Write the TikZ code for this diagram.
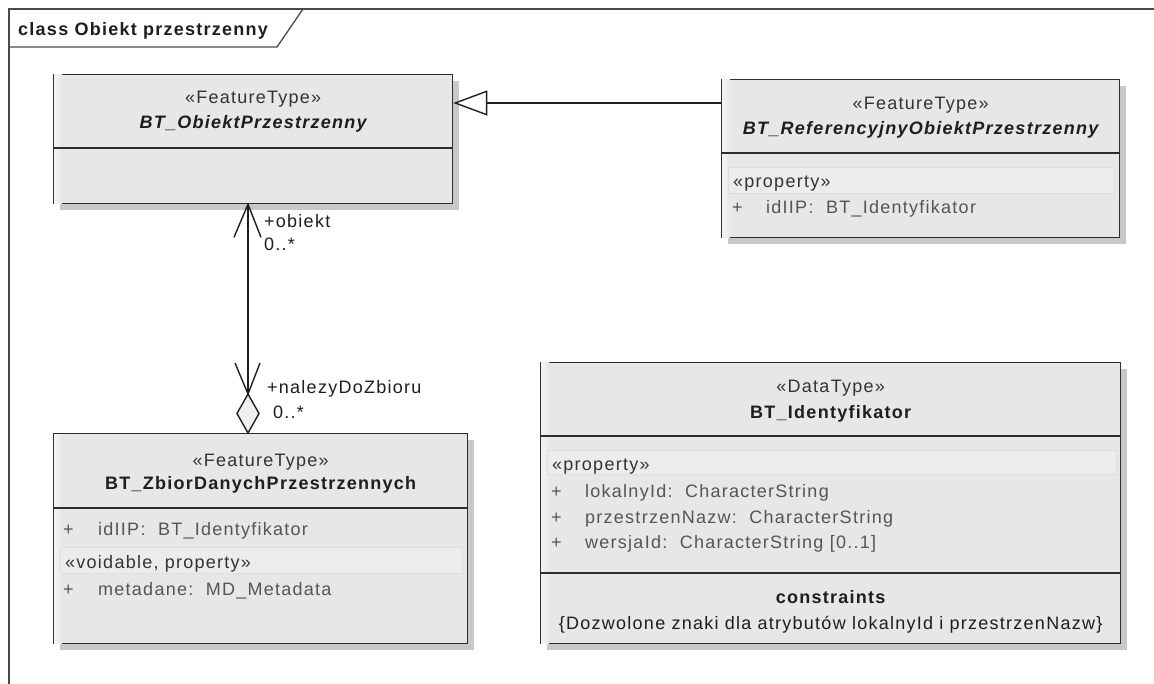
\documentclass[tikz,border=0pt]{standalone}
\usepackage{fontspec}
\setmainfont{Liberation Sans}[LetterSpace=7]
\usetikzlibrary{calc,arrows.meta,shadows}
\definecolor{boxfill}{HTML}{E7E7E7}
\definecolor{boxline}{HTML}{2E2E2E}
\definecolor{shadowc}{HTML}{C8C8C8}
\definecolor{bandfill}{HTML}{ECECEC}
\definecolor{bandline}{HTML}{DEDEDE}
\definecolor{stereoc}{HTML}{333333}
\definecolor{attrc}{HTML}{555555}
\definecolor{framec}{HTML}{4A4A4A}
\definecolor{namec}{HTML}{1E1E1E}
\begin{document}
\begin{tikzpicture}[x=1pt,y=-1pt,
  txt/.style={inner sep=0pt, anchor=base, font=\fontsize{18}{21}\selectfont},
  txtl/.style={txt, anchor=base west},
  stereo/.style={txt, text=stereoc},
  cname/.style={txt, text=namec, font=\fontsize{18}{21}\selectfont\bfseries},
  aname/.style={txt, text=namec, font=\fontsize{18}{21}\selectfont\bfseries\itshape},
  attr/.style={txtl, text=attrc},
  plus/.style={txtl, text=attrc},
  classbox/.style={draw=boxline, line width=1.3pt, fill=boxfill, inner sep=0pt, anchor=north west,
    drop shadow={shadow xshift=6pt, shadow yshift=-6pt, fill=shadowc, opacity=1}},
  divline/.style={draw=boxline, line width=1.3pt},
  band/.style={fill=bandfill, draw=bandline, line width=0.6pt},
  strip/.style={left color=white!55!boxfill, right color=boxfill},
  conn/.style={draw=black!88, line width=1.4pt},
  frameline/.style={draw=framec, line width=1.3pt}
]
\useasboundingbox (0,0) rectangle (1154,684);
\fill[white] (0,0) rectangle (1154,684);

% frame
\draw[frameline] (9,700) -- (9,9) -- (1170,9);
\draw[frameline] (9,47) -- (277,47) -- (303,9);
\node[txtl, font=\fontsize{18}{21}\selectfont\bfseries, text=namec] (title) at (18,36) {class Obiekt przestrzenny};

% class boxes
\node[classbox, minimum width=399pt, minimum height=129pt] (c1) at (53,74) {};
\node[classbox, minimum width=398pt, minimum height=158pt] (c2) at (721,79) {};
\node[classbox, minimum width=414pt, minimum height=210pt] (c3) at (53,433) {};
\node[classbox, minimum width=580pt, minimum height=281pt] (c4) at (540,362) {};

% left light strips
\foreach \c in {c1,c2,c3,c4}{
  \fill[strip] ($(\c.north west)+(1,1)$) rectangle ($(\c.south west)+(9,-1)$);
}

% ---- c1
\node[stereo] (c1s) at ($(c1.north)+(0,30)$) {«FeatureType»};
\node[aname] (c1n) at ($(c1.north)+(0,55)$) {BT\_ObiektPrzestrzenny};
\draw[divline] ($(c1.north west)+(0,74)$) -- ($(c1.north east)+(0,74)$);

% ---- c2
\node[stereo] (c2s) at ($(c2.north)+(0,31)$) {«FeatureType»};
\node[aname] (c2n) at ($(c2.north)+(0,56)$) {BT\_ReferencyjnyObiektPrzestrzenny};
\draw[divline] ($(c2.north west)+(0,74)$) -- ($(c2.north east)+(0,74)$);
\path[band] ($(c2.north west)+(7,88)$) rectangle ($(c2.north east)+(-6,114)$);
\node[txtl, text=stereoc] (c2p) at ($(c2.north west)+(12,109)$) {«property»};
\node[plus] (c2a1p) at ($(c2.north west)+(11,135)$) {+};
\node[attr] (c2a1) at ($(c2.north west)+(45,135)$) {idIIP:\ \ BT\_Identyfikator};

% ---- c3
\node[stereo] (c3s) at ($(c3.north)+(0,33)$) {«FeatureType»};
\node[cname] (c3n) at ($(c3.north)+(0,56)$) {BT\_ZbiorDanychPrzestrzennych};
\draw[divline] ($(c3.north west)+(0,75)$) -- ($(c3.north east)+(0,75)$);
\node[plus] (c3a1p) at ($(c3.north west)+(10,102)$) {+};
\node[attr] (c3a1) at ($(c3.north west)+(45,102)$) {idIIP:\ \ BT\_Identyfikator};
\path[band] ($(c3.north west)+(7,114)$) rectangle ($(c3.north east)+(-6,140)$);
\node[txtl, text=stereoc] (c3p) at ($(c3.north west)+(12,135)$) {«voidable, property»};
\node[plus] (c3a2p) at ($(c3.north west)+(10,162)$) {+};
\node[attr] (c3a2) at ($(c3.north west)+(45,162)$) {metadane:\ \ MD\_Metadata};

% ---- c4
\node[stereo] (c4s) at ($(c4.north)+(0,31)$) {«DataType»};
\node[cname] (c4n) at ($(c4.north)+(0,57)$) {BT\_Identyfikator};
\draw[divline] ($(c4.north west)+(0,74)$) -- ($(c4.north east)+(0,74)$);
\path[band] ($(c4.north west)+(7,88)$) rectangle ($(c4.north east)+(-5,112)$);
\node[txtl, text=stereoc] (c4p) at ($(c4.north west)+(12,108)$) {«property»};
\node[plus] (c4a1p) at ($(c4.north west)+(11,135)$) {+};
\node[attr] (c4a1) at ($(c4.north west)+(45,135)$) {lokalnyId:\ \ CharacterString};
\node[plus] (c4a2p) at ($(c4.north west)+(11,161)$) {+};
\node[attr] (c4a2) at ($(c4.north west)+(45,161)$) {przestrzenNazw:\ \ CharacterString};
\node[plus] (c4a3p) at ($(c4.north west)+(11,186)$) {+};
\node[attr] (c4a3) at ($(c4.north west)+(45,186)$) {wersjaId:\ \ CharacterString [0..1]};
\draw[divline] ($(c4.north west)+(0,211)$) -- ($(c4.north east)+(0,211)$);
\node[cname] (c4c) at ($(c4.north)+(0,241)$) {constraints};
\node[txt, text=namec] (c4d) at ($(c4.north)+(0,267)$) {\{Dozwolone znaki dla atrybutów lokalnyId i przestrzenNazw\}};

% ---- generalization
\coordinate (g) at (0,103);
\draw[conn, -{Triangle[open, length=34pt, width=25pt, fill=white]}] (c2.west |- g) -- (c1.east |- g);

% ---- association (aggregation)
\coordinate (a) at (248,0);
\coordinate (atop) at (c1.south -| a);
\coordinate (abot) at (c3.north -| a);
\coordinate (dtop) at ($(abot)+(0,-39)$);
\draw[conn] (dtop) -- (atop);
\draw[conn] ($(atop)+(-14,33)$) -- (atop) -- ($(atop)+(13,33)$);
\draw[conn] ($(dtop)+(-13,-31)$) -- (dtop) -- ($(dtop)+(12,-31)$);
\draw[conn, fill=white!94!black, line join=miter] (abot) -- ($(abot)+(11,-19.5)$) -- (dtop) -- ($(abot)+(-11,-19.5)$) -- cycle;

\node[txtl, fill=white, inner sep=1pt, text=namec] (l1) at (263,228) {+obiekt};
\node[txtl, text=namec] (l2) at (264,251) {0..*};
\node[txtl, text=namec] (l3) at (267,394) {+nalezyDoZbioru};
\node[txtl, text=namec] (l4) at (273,418) {0..*};
\end{tikzpicture}
\end{document}
